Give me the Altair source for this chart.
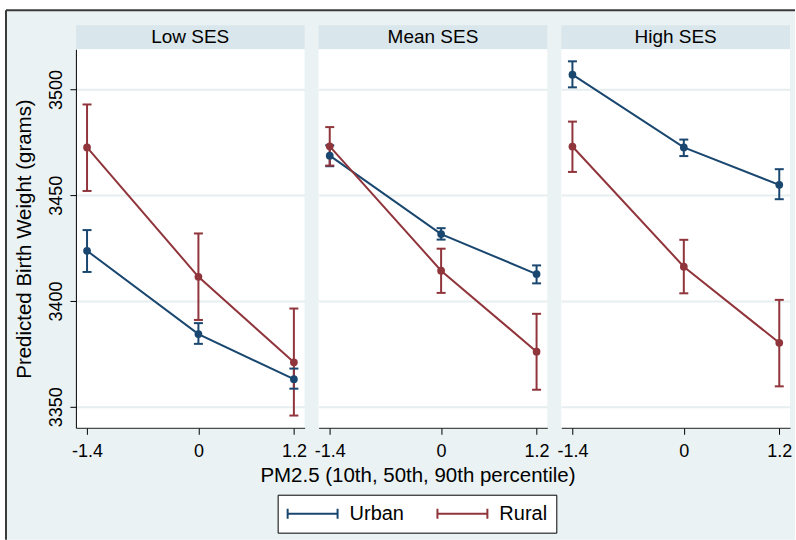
import altair as alt
import pandas as pd

# ---------------- data ----------------
x_vals = [-1.4, 0.0, 1.2]
x_labels = ["-1.4", "0", "1.2"]
panels = ["Low SES", "Mean SES", "High SES"]
groups = ["Urban", "Rural"]
y_ticks = [3350, 3400, 3450, 3500]
y_title = "Predicted Birth Weight (grams)"
x_title = "PM2.5 (10th, 50th, 90th percentile)"

low_urban_est = [3423.7, 3384.3, 3363.0]
low_urban_lo = [3413.7, 3379.7, 3358.5]
low_urban_hi = [3433.5, 3389.5, 3368.0]
low_rural_est = [3472.6, 3411.4, 3371.0]
low_rural_lo = [3452.0, 3391.0, 3345.8]
low_rural_hi = [3492.9, 3431.9, 3396.4]

mean_urban_est = [3468.7, 3431.6, 3412.7]
mean_urban_lo = [3463.7, 3429.0, 3408.3]
mean_urban_hi = [3473.6, 3434.4, 3416.8]
mean_rural_est = [3473.1, 3414.3, 3376.0]
mean_rural_lo = [3464.0, 3403.8, 3358.0]
mean_rural_hi = [3482.2, 3424.7, 3393.9]

high_urban_est = [3507.0, 3472.6, 3454.9]
high_urban_lo = [3501.0, 3468.5, 3448.1]
high_urban_hi = [3513.3, 3476.3, 3462.3]
high_rural_est = [3473.0, 3416.2, 3380.2]
high_rural_lo = [3461.0, 3403.6, 3359.6]
high_rural_hi = [3484.8, 3428.9, 3400.5]

series = {
    "Low SES": [(low_urban_est, low_urban_lo, low_urban_hi), (low_rural_est, low_rural_lo, low_rural_hi)],
    "Mean SES": [(mean_urban_est, mean_urban_lo, mean_urban_hi), (mean_rural_est, mean_rural_lo, mean_rural_hi)],
    "High SES": [(high_urban_est, high_urban_lo, high_urban_hi), (high_rural_est, high_rural_lo, high_rural_hi)],
}

# ---------------- styling ----------------
FONT = "Liberation Sans"
NAVY = "#1A476F"
MAROON = "#90353B"
BG = "#EAF2F3"
STRIP = "#D9E6EB"
GRID = "#E6EEF0"
FRAME = "#3A3A3A"
PW, PH, SH = 229, 379, 24

label_expr = " : ".join(
    [f"datum.value < {(x_vals[0] + x_vals[1]) / 2} ? '{x_labels[0]}'",
     f"datum.value > {(x_vals[1] + x_vals[2]) / 2} ? '{x_labels[2]}'",
     f"'{x_labels[1]}'"]
)

stroke_scale = alt.Scale(domain=groups, range=[NAVY, MAROON])
xscale = alt.Scale(domain=[-1.54, 1.335], nice=False, zero=False)
yscale = alt.Scale(domain=[3340, 3519], nice=False, zero=False)


def make_df(name):
    rows = []
    for g, (est, lo, hi) in zip(groups, series[name]):
        for xv, e, l, h in zip(x_vals, est, lo, hi):
            rows.append({"pm": xv, "group": g, "est": e, "lo": l, "hi": h})
    return pd.DataFrame(rows)


def strip(label, first):
    base = alt.Chart(pd.DataFrame({"label": [label]}))
    layers = []
    if first:
        layers.append(base.mark_rect(color=BG).encode(
            x=alt.value(-70), x2=alt.value(720), y=alt.value(-15), y2=alt.value(515)))
        layers.append(base.mark_rule(color=FRAME, strokeWidth=2).encode(
            x=alt.value(-70), x2=alt.value(720), y=alt.value(-15)))
        layers.append(base.mark_rule(color=FRAME, strokeWidth=2).encode(
            x=alt.value(-70), y=alt.value(-15), y2=alt.value(515)))
    layers.append(base.mark_rect(color=STRIP).encode(
        x=alt.value(0), x2=alt.value(PW), y=alt.value(0), y2=alt.value(SH)))
    layers.append(base.mark_text(font=FONT, fontSize=19, color="black", baseline="alphabetic",
                                 align="center").encode(
        x=alt.value(PW / 2), y=alt.value(17.7), text="label:N"))
    return alt.layer(*layers).properties(width=PW, height=SH)


def panel(name, idx):
    df = make_df(name)
    first = idx == 0
    if first:
        yaxis = alt.Axis(values=y_ticks, format="d", labelAngle=270, labelAlign="center",
                         labelBaseline="alphabetic", labelPadding=8, labelFontSize=18,
                         labelColor="black", tickSize=6, tickColor="black", domainColor="black",
                         domainWidth=1, grid=True, gridColor=GRID, gridWidth=2,
                         title=y_title, titleAngle=270, titleX=-45, titleY=PH / 2,
                         titleAlign="center", titleBaseline="alphabetic", titleFontSize=20.5,
                         titleFontWeight="normal", titleColor="black")
    else:
        yaxis = alt.Axis(values=y_ticks, labels=False, ticks=False, domain=False, grid=True,
                         gridColor=GRID, gridWidth=2, title=None)
    xaxis = alt.Axis(values=x_vals, labelExpr=label_expr, labelFontSize=18, labelColor="black",
                     labelBaseline="alphabetic", labelPadding=22, labelFlush=False,
                     tickSize=6.5, tickColor="black", domainColor="#222222", domainWidth=1,
                     grid=False,
                     title=x_title if idx == 1 else None, titleX=99, titleY=54,
                     titleAlign="center", titleBaseline="alphabetic", titleFontSize=20.5,
                     titleFontWeight="normal", titleColor="black")

    X = alt.X("pm:Q", scale=xscale, axis=xaxis)

    def Y(field):
        return alt.Y(f"{field}:Q", scale=yscale, axis=yaxis)

    stroke = alt.Stroke(
        "group:N", scale=stroke_scale,
        legend=alt.Legend(orient="none", legendX=202, legendY=470, direction="horizontal",
                          title=None, symbolType="M-1.8,0H8.2M-1.8,-1V1M8.2,-1V1",
                          symbolSize=100, symbolStrokeWidth=2, symbolFillColor="transparent",
                          labelFontSize=20, labelFont=FONT, labelColor="black", labelOffset=43,
                          columnPadding=29, padding=9, strokeColor="black",
                          fillColor="white", labelLimit=200))
    fill = alt.Fill("group:N", scale=stroke_scale, legend=None)

    base = alt.Chart(df)
    rules = base.mark_rule(strokeWidth=2).encode(x=X, y=Y("lo"), y2="hi:Q", stroke=stroke)
    cap_lo = base.mark_tick(orient="horizontal", size=9, thickness=2, opacity=1).encode(
        x=X, y=Y("lo"), fill=fill)
    cap_hi = base.mark_tick(orient="horizontal", size=9, thickness=2, opacity=1).encode(
        x=X, y=Y("hi"), fill=fill)
    lines = base.mark_line(strokeWidth=2).encode(x=X, y=Y("est"), stroke=stroke)
    pts = base.mark_point(filled=True, size=60, opacity=1, shape="circle").encode(
        x=X, y=Y("est"), fill=fill)
    return alt.layer(rules, cap_lo, cap_hi, lines, pts).properties(
        width=PW, height=PH, view=alt.ViewBackground(fill="white", strokeWidth=0))


cells = [strip(name, i == 0) for i, name in enumerate(panels)] + \
        [panel(name, i) for i, name in enumerate(panels)]

chart = alt.concat(*cells, columns=3, spacing={"row": 0, "column": 14}, bounds="flush").properties(
    background="white",
    padding={"left": 5, "top": 9, "right": 0, "bottom": 0},
).resolve_scale(x="independent", y="independent").configure_view(strokeWidth=0).configure_axis(
    labelFont=FONT, titleFont=FONT
).configure_legend(labelFont=FONT)

chart.save("out.html", embed_options={"renderer": "svg", "actions": False})
